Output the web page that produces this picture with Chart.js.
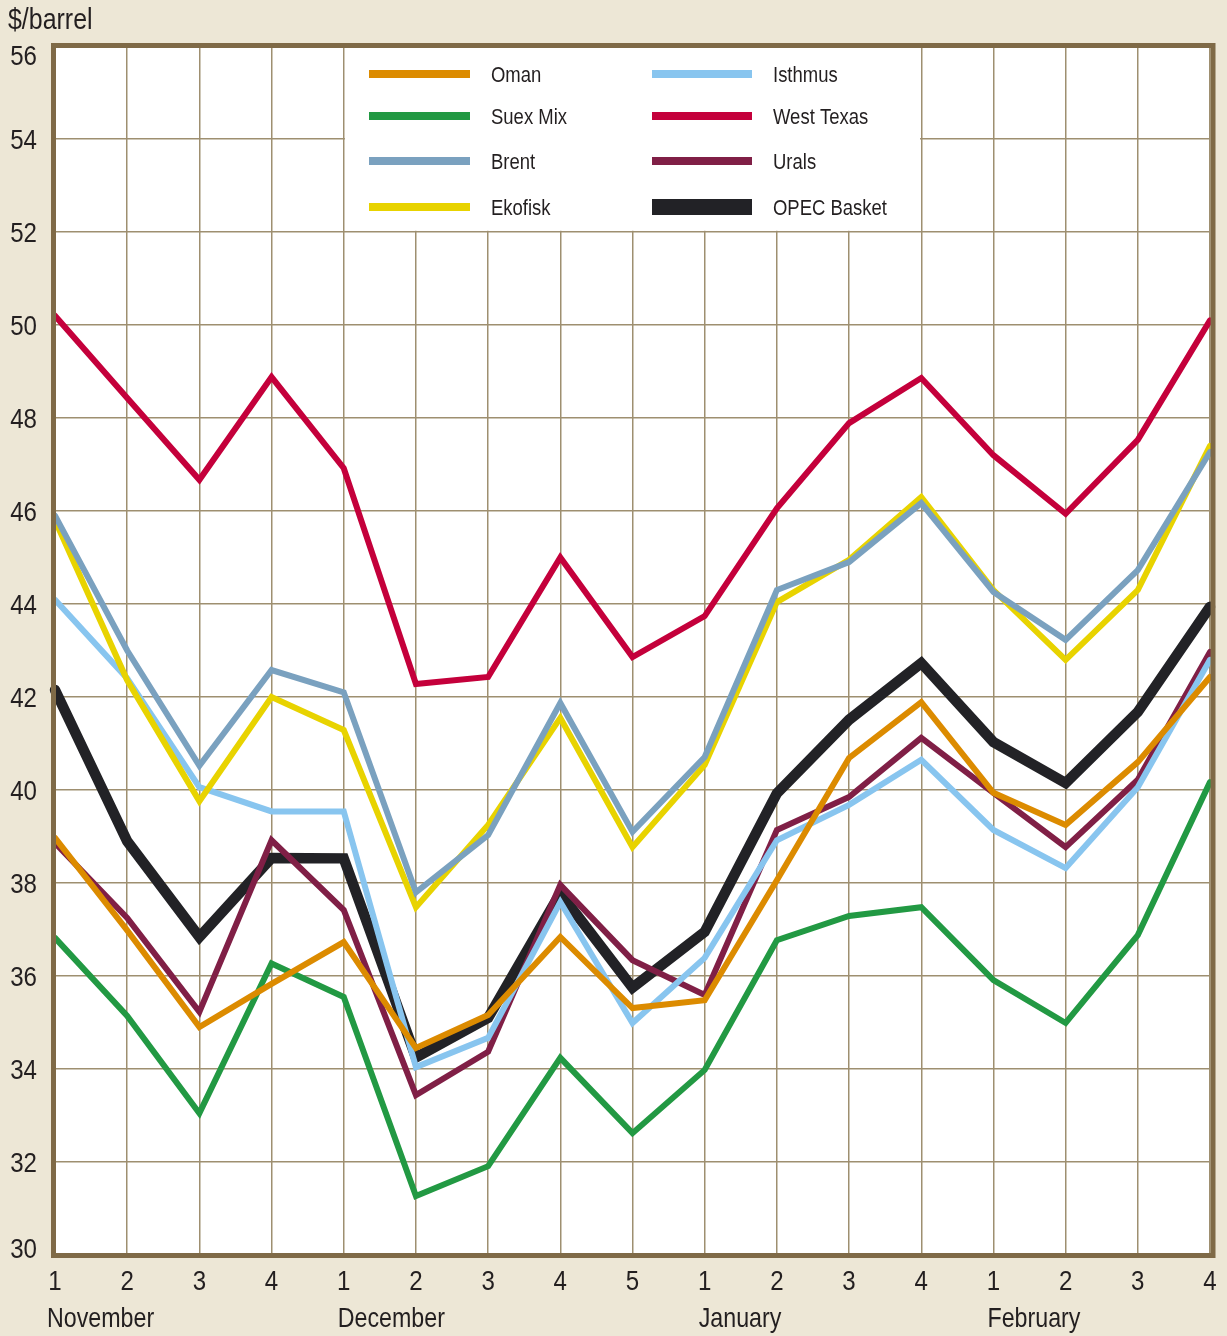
<!DOCTYPE html>
<html><head><meta charset="utf-8">
<script src="https://cdn.jsdelivr.net/npm/chart.js@4.4.1/dist/chart.umd.min.js"></script>
<style>html,body{margin:0;padding:0;background:#ede7d6;overflow:hidden}#wrap{width:1227px;height:1336px;position:relative}</style>
</head><body><div id="wrap"><canvas id="c" width="1227" height="1336"></canvas></div>
<script>
// ---- data ----
const weeks = ['1','2','3','4','1','2','3','4','5','1','2','3','4','1','2','3','4'];
const months = ['November','December','January','February'];
const monthStart = [0,4,9,13];
const yTitle = '$/barrel';

const oman      = [38.97,36.98,34.9,35.83,36.73,34.45,35.16,36.84,35.31,35.48,38.06,40.69,41.89,39.94,39.25,40.6,42.43];
const suexMix   = [36.82,35.14,33.05,36.27,35.55,31.27,31.91,34.24,32.62,33.98,36.77,37.29,37.48,35.91,34.99,36.88,40.17];
const brent     = [45.9,43.0,40.52,42.58,42.1,37.8,39.03,41.87,39.1,40.71,44.3,44.9,46.17,44.26,43.23,44.73,47.27];
const ekofisk   = [45.8,42.36,39.76,42.0,41.29,37.48,39.25,41.55,38.77,40.54,44.04,44.95,46.3,44.3,42.8,44.3,47.4];
const isthmus   = [44.09,42.4,40.06,39.54,39.54,34.04,34.67,37.59,34.99,36.39,38.92,39.68,40.65,39.14,38.32,40.06,42.8];
const westTexas = [50.2,48.43,46.67,48.88,46.92,42.28,42.43,45.0,42.86,43.74,46.06,47.89,48.86,47.2,45.94,47.53,50.1];
const urals     = [38.86,37.25,35.23,38.92,37.42,33.44,34.37,37.96,36.34,35.59,39.14,39.85,41.12,39.94,38.77,40.22,42.97];
const opec      = [42.15,38.9,36.84,38.54,38.53,34.25,35.1,37.78,35.75,36.95,39.93,41.51,42.73,41.03,40.15,41.68,43.94];

const FONT = "'Liberation Sans','Arial',sans-serif";
const TXT = '#231f20';
const BG = '#ede7d6';
const FRAME = '#7f6a47';
const GRID = '#9e8f70';

function ds(label, data, color, width){
  return {label, data, borderColor: color, backgroundColor: color, borderWidth: width,
    pointRadius: 0, tension: 0, fill: false, borderCapStyle: 'round', borderJoinStyle: 'miter', clip: 8};
}

const datasets = [
  ds('Oman', oman, '#dc8b00', 6),
  ds('Suex Mix', suexMix, '#229943', 6),
  ds('Brent', brent, '#7aa1bf', 6),
  ds('Ekofisk', ekofisk, '#e8d300', 6),
  ds('Isthmus', isthmus, '#88c5ef', 6),
  ds('West Texas', westTexas, '#c4003b', 6),
  ds('Urals', urals, '#801f46', 6),
  ds('OPEC Basket', opec, '#222226', 10.5)
];

// condensed text helper
function txt(ctx, s, x, y, size, align, sx){
  sx = sx || 0.82;
  ctx.save();
  ctx.font = size + 'px ' + FONT;
  ctx.fillStyle = TXT;
  ctx.textBaseline = 'alphabetic';
  const w = ctx.measureText(s).width * sx;
  let left = x;
  if (align === 'right') left = x - w;
  else if (align === 'center') left = x - w/2;
  ctx.translate(left, y);
  ctx.scale(sx, 1);
  ctx.textAlign = 'left';
  ctx.fillText(s, 0, 0);
  ctx.restore();
}

const bgPlugin = {
  id: 'bg',
  beforeDraw(chart){
    const {ctx, chartArea: a} = chart;
    ctx.save();
    ctx.fillStyle = BG; ctx.fillRect(0,0,chart.width,chart.height);
    ctx.fillStyle = '#ffffff'; ctx.fillRect(a.left, a.top, a.right-a.left, a.bottom-a.top);
    ctx.restore();
  },
  beforeDatasetsDraw(chart){
    const {ctx, scales:{x,y}} = chart;
    ctx.save();
    ctx.fillStyle = '#ffffff';
    const l = x.getPixelForValue(4)+1.2, r = x.getPixelForValue(12)-1.2;
    const b = y.getPixelForValue(52)-1.2;
    ctx.fillRect(l, chart.chartArea.top, r-l, b-chart.chartArea.top);
    ctx.restore();
  },
  afterDatasetsDraw(chart){
    const {ctx, chartArea: a, scales:{x,y}} = chart;
    ctx.save();
    // frame
    ctx.strokeStyle = FRAME; ctx.lineWidth = 5;
    ctx.strokeRect(a.left-1.5, a.top-0.5, (a.right+3)-(a.left-1.5), (a.bottom+0.5)-(a.top-0.5));
    ctx.restore();
    // y labels
    y.ticks.forEach(t => {
      let py = y.getPixelForValue(t.value);
      py = Math.max(55, Math.min(1248, py));
      txt(ctx, String(t.value), 37, py + 10, 28, 'right', 0.86);
    });
    // x labels (week numbers)
    x.ticks.forEach((t, i) => {
      const px = x.getPixelForValue(i);
      txt(ctx, x.getLabelForValue(t.value), px, 1290, 28, 'center', 0.86);
    });
    // title
    txt(ctx, yTitle, 8, 29, 29, 'left', 0.86);
    // month labels
    months.forEach((m,i) => {
      const px = x.getPixelForValue(monthStart[i]);
      txt(ctx, m, px - (i===0?8:6), 1327, 28, 'left', 0.83);
    });
    // legend
    const rowY = [74,116,161,207];
    const colLine = [[369,470],[652,752]];
    const colText = [491,773];
    chart.data.datasets.forEach((d,i) => {
      const c = i<4?0:1, r = i%4;
      ctx.save();
      ctx.fillStyle = d.borderColor;
      const h = d.borderWidth>8 ? 16 : 8;
      ctx.fillRect(colLine[c][0], rowY[r]-h/2, colLine[c][1]-colLine[c][0], h);
      ctx.restore();
      txt(ctx, d.label, colText[c], rowY[r]+8, 22, 'left', 0.84);
    });
  }
};

new Chart(document.getElementById('c'), {
  type: 'line',
  data: {labels: weeks, datasets},
  options: {
    responsive: false, animation: false, devicePixelRatio: 1,
    layout: {padding: {top: 46, right: 17, left: 0, bottom: 0}},
    plugins: {legend: {display: false}, tooltip: {enabled: false}, title: {display: false}},
    scales: {
      x: {
        offset: false,
        border: {display: false},
        grid: {color: GRID, lineWidth: 1.5, drawTicks: false},
        ticks: {display: false, autoSkip: false},
        afterFit(s){ s.height = 81; }
      },
      y: {
        min: 30, max: 56,
        border: {display: false},
        grid: {color: GRID, lineWidth: 1.5, drawTicks: false},
        ticks: {display: false, stepSize: 2},
        afterFit(s){ s.width = 55; }
      }
    }
  },
  plugins: [bgPlugin]
});
</script></body></html>
